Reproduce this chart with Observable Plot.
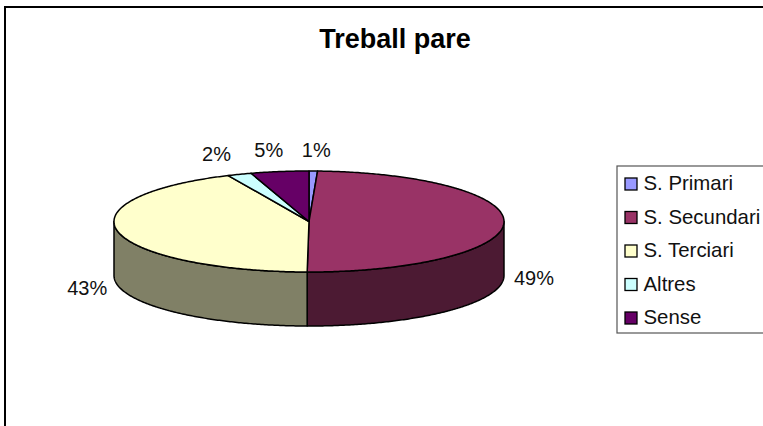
<!DOCTYPE html>
<html>
<head>
<meta charset="utf-8">
<script src="https://cdn.jsdelivr.net/npm/d3@7"></script>
<script src="https://cdn.jsdelivr.net/npm/@observablehq/plot@0.6"></script>
<style>html,body{margin:0;padding:0;background:#fff}svg{display:block}</style>
</head>
<body>
<div id="chart"></div>
<script>
const categories = ["S. Primari", "S. Secundari", "S. Terciari", "Altres", "Sense"];
const shares = [0.7, 49.45, 43.05, 2.0, 4.8];
const topColors = ["#9999FF", "#993366", "#FFFFCC", "#CCFFFF", "#660066"];
const wallColors = ["#4C4C80", "#4C1A33", "#808066", "#668080", "#330033"];
const chartTitle = "Treball pare";

// Layout of the tilted pie, in SVG units
const W = 763, H = 426;
const cx = 308.5, cy = 221, rx = 195, ry = 50.5, depth = 54;
const labelOffsets = [[3, -20], [30, 55.5], [-31, 57], [-23, -20], [-11, -21]];
const legendBox = {x1: 617, x2: 770, y1: 166, y2: 333};
const legendRowY = i => 184 + i * 33.5;

const total = d3.sum(shares);
const cum = d3.cumsum(shares);
const angle = p => (p / total) * 2 * Math.PI;
const px = a => cx + rx * Math.sin(a);
const py = a => cy - ry * Math.cos(a);
function arc(a0, a1) {
  const n = Math.max(2, Math.ceil((a1 - a0) / 0.01));
  return d3.range(n + 1).map(i => a0 + (a1 - a0) * i / n);
}

const slices = categories.map((name, i) => ({
  name, i, a0: angle(i ? cum[i - 1] : 0), a1: angle(cum[i]), share: shares[i]
}));

// Top faces: centre, rim, centre
const topPts = slices.flatMap(s => [
  {key: s.name, color: topColors[s.i], x: cx, y: cy},
  ...arc(s.a0, s.a1).map(a => ({key: s.name, color: topColors[s.i], x: px(a), y: py(a)})),
  {key: s.name, color: topColors[s.i], x: cx, y: cy}
]);

// Walls: only the front half of the rim is visible
const wallPts = slices.flatMap(s => {
  const a0 = Math.max(s.a0, Math.PI / 2), a1 = Math.min(s.a1, 3 * Math.PI / 2);
  if (a1 <= a0) return [];
  const as = arc(a0, a1);
  const ring = [
    ...as.map(a => ({x: px(a), y: py(a)})),
    ...as.slice().reverse().map(a => ({x: px(a), y: py(a) + depth}))
  ];
  ring.push(ring[0]);
  return ring.map(p => ({...p, key: s.name, color: wallColors[s.i]}));
});

const pctLabels = slices.map(s => {
  const mid = (s.a0 + s.a1) / 2;
  return {
    text: Math.round(s.share / total * 100) + "%",
    x: px(mid) + labelOffsets[s.i][0],
    y: py(mid) + labelOffsets[s.i][1]
  };
});

const legendRows = categories.map((name, i) => ({name, color: topColors[i], y: legendRowY(i)}));
const font = "Liberation Sans, Arial, sans-serif";

const plot = Plot.plot({
  width: W, height: H,
  marginTop: 0, marginRight: 0, marginBottom: 0, marginLeft: 0,
  x: {domain: [0, W], range: [0, W], axis: null},
  y: {domain: [0, H], range: [0, H], axis: null},
  style: {fontFamily: font, background: "#fff", overflow: "hidden"},
  marks: [
    // chart-area border (runs off the right and bottom edges)
    Plot.rect([{x1: 5, x2: W + 20, y1: 7, y2: H + 20}], {
      x1: "x1", x2: "x2", y1: "y1", y2: "y2", fill: "#fff", stroke: "black", strokeWidth: 2
    }),
    Plot.line(wallPts, {
      x: "x", y: "y", z: "key", fill: {value: "color", scale: null},
      stroke: "black", strokeWidth: 1.5, curve: "linear", strokeLinejoin: "round"
    }),
    Plot.line(topPts, {
      x: "x", y: "y", z: "key", fill: {value: "color", scale: null},
      stroke: "black", strokeWidth: 1.5, curve: "linear", strokeLinejoin: "round"
    }),
    Plot.text([chartTitle], {
      x: () => 394.5, y: () => 39, text: d => d,
      fontSize: 27, fontWeight: "bold", fill: "black", textAnchor: "middle", lineAnchor: "middle"
    }),
    Plot.text(pctLabels, {
      x: "x", y: "y", text: "text",
      fontSize: 20, fill: "#111", textAnchor: "middle", lineAnchor: "middle"
    }),
    // legend
    Plot.rect([legendBox], {
      x1: "x1", x2: "x2", y1: "y1", y2: "y2", fill: "#fff", stroke: "#555", strokeWidth: 1.2
    }),
    Plot.rect(legendRows, {
      x1: () => 625, x2: () => 637,
      y1: d => d.y - 6, y2: d => d.y + 6,
      fill: {value: "color", scale: null}, stroke: "black", strokeWidth: 1.3
    }),
    Plot.text(legendRows, {
      x: () => 643, y: d => d.y - 1, text: "name",
      fontSize: 20.4, fill: "#111", textAnchor: "start", lineAnchor: "middle"
    })
  ]
});
document.getElementById("chart").appendChild(plot);
</script>
</body>
</html>
